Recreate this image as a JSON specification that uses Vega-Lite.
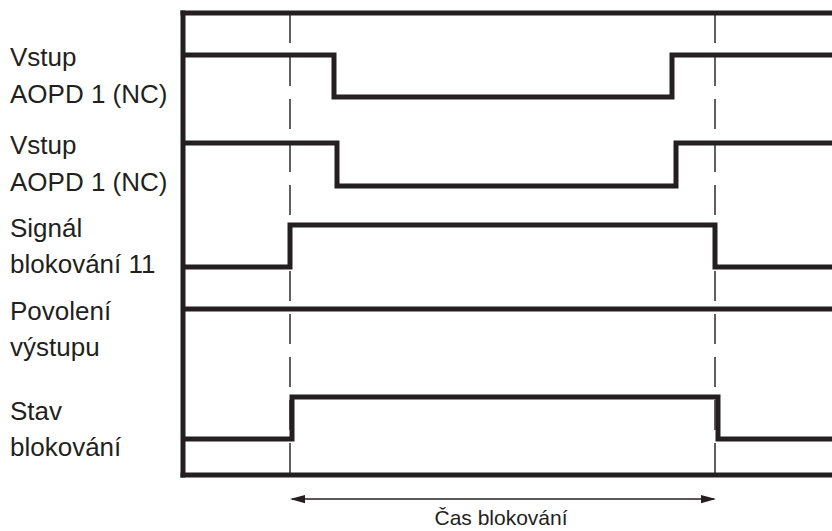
{
  "$schema": "https://vega.github.io/schema/vega-lite/v6.json",
  "width": 832,
  "height": 531,
  "padding": 0,
  "autosize": {"type": "none"},
  "background": "white",
  "config": {"view": {"stroke": null}},
  "datasets": {
    "frame": [
      {"t": 183, "t2": 840, "v": 13, "v2": 13},
      {"t": 183, "t2": 840, "v": 475, "v2": 475},
      {"t": 183, "t2": 183, "v": 13, "v2": 475}
    ],
    "dashes": [
      {"t": 290, "v": 13, "v2": 475},
      {"t": 715, "v": 13, "v2": 475}
    ],
    "signals": [
      {"signal": "s1", "t": 183, "v": 55},
      {"signal": "s1", "t": 334, "v": 97},
      {"signal": "s1", "t": 672, "v": 55},
      {"signal": "s1", "t": 840, "v": 55},
      {"signal": "s2", "t": 183, "v": 143},
      {"signal": "s2", "t": 337, "v": 186},
      {"signal": "s2", "t": 676, "v": 143},
      {"signal": "s2", "t": 840, "v": 143},
      {"signal": "s3", "t": 183, "v": 267},
      {"signal": "s3", "t": 290, "v": 225},
      {"signal": "s3", "t": 715, "v": 267},
      {"signal": "s3", "t": 840, "v": 267},
      {"signal": "s4", "t": 183, "v": 309},
      {"signal": "s4", "t": 840, "v": 309},
      {"signal": "s5", "t": 183, "v": 439},
      {"signal": "s5", "t": 292, "v": 397},
      {"signal": "s5", "t": 718, "v": 439},
      {"signal": "s5", "t": 840, "v": 439}
    ],
    "arrow": [{"t": 292, "t2": 714, "v": 499}],
    "heads": [
      {"t": 297.5, "v": 499, "dir": "left"},
      {"t": 708.5, "v": 499, "dir": "right"}
    ],
    "labels": [
      {"text": "Vstup", "t": 10, "v": 66},
      {"text": "AOPD 1 (NC)", "t": 10, "v": 103},
      {"text": "Vstup", "t": 10, "v": 154},
      {"text": "AOPD 1 (NC)", "t": 10, "v": 191},
      {"text": "Signál", "t": 10, "v": 237},
      {"text": "blokování 11", "t": 10, "v": 273},
      {"text": "Povolení", "t": 10, "v": 320},
      {"text": "výstupu", "t": 10, "v": 356},
      {"text": "Stav", "t": 10, "v": 420},
      {"text": "blokování", "t": 10, "v": 456}
    ],
    "caption": [{"text": "Čas blokování", "t": 501, "v": 525}]
  },
  "layer": [
    {
      "data": {"name": "dashes"},
      "mark": {"type": "rule", "color": "#5f6062", "strokeWidth": 2, "strokeDash": [30, 13]},
      "encoding": {
        "x": {"field": "t", "type": "quantitative", "scale": {"domain": [0, 832], "nice": false, "zero": false}, "axis": null},
        "y": {"field": "v", "type": "quantitative", "scale": {"domain": [0, 531], "nice": false, "zero": false, "reverse": true}, "axis": null},
        "y2": {"field": "v2"}
      }
    },
    {
      "data": {"name": "frame"},
      "mark": {"type": "rule", "color": "#231f20", "strokeWidth": 5, "strokeCap": "square"},
      "encoding": {
        "x": {"field": "t", "type": "quantitative", "scale": {"domain": [0, 832], "nice": false, "zero": false}, "axis": null},
        "x2": {"field": "t2"},
        "y": {"field": "v", "type": "quantitative", "scale": {"domain": [0, 531], "nice": false, "zero": false, "reverse": true}, "axis": null},
        "y2": {"field": "v2"}
      }
    },
    {
      "data": {"name": "signals"},
      "mark": {"type": "line", "color": "#231f20", "strokeWidth": 5, "interpolate": "step-after", "strokeJoin": "miter"},
      "encoding": {
        "x": {"field": "t", "type": "quantitative", "scale": {"domain": [0, 832], "nice": false, "zero": false}, "axis": null},
        "y": {"field": "v", "type": "quantitative", "scale": {"domain": [0, 531], "nice": false, "zero": false, "reverse": true}, "axis": null},
        "detail": {"field": "signal", "type": "nominal"}
      }
    },
    {
      "data": {"name": "arrow"},
      "mark": {"type": "rule", "color": "#231f20", "strokeWidth": 1.5},
      "encoding": {
        "x": {"field": "t", "type": "quantitative", "scale": {"domain": [0, 832], "nice": false, "zero": false}, "axis": null},
        "x2": {"field": "t2"},
        "y": {"field": "v", "type": "quantitative", "scale": {"domain": [0, 531], "nice": false, "zero": false, "reverse": true}, "axis": null}
      }
    },
    {
      "data": {"name": "heads"},
      "mark": {"type": "point", "filled": true, "color": "#231f20", "opacity": 1, "size": 225},
      "encoding": {
        "x": {"field": "t", "type": "quantitative", "scale": {"domain": [0, 832], "nice": false, "zero": false}, "axis": null},
        "y": {"field": "v", "type": "quantitative", "scale": {"domain": [0, 531], "nice": false, "zero": false, "reverse": true}, "axis": null},
        "shape": {"field": "dir", "type": "nominal", "scale": {"domain": ["left", "right"], "range": ["M-1,0L1,-0.55L1,0.55Z", "M1,0L-1,-0.55L-1,0.55Z"]}, "legend": null}
      }
    },
    {
      "data": {"name": "labels"},
      "mark": {"type": "text", "align": "left", "baseline": "alphabetic", "font": "Liberation Sans", "fontSize": 26, "color": "#231f20"},
      "encoding": {
        "x": {"field": "t", "type": "quantitative", "scale": {"domain": [0, 832], "nice": false, "zero": false}, "axis": null},
        "y": {"field": "v", "type": "quantitative", "scale": {"domain": [0, 531], "nice": false, "zero": false, "reverse": true}, "axis": null},
        "text": {"field": "text", "type": "nominal"}
      }
    },
    {
      "data": {"name": "caption"},
      "mark": {"type": "text", "align": "center", "baseline": "alphabetic", "font": "Liberation Sans", "fontSize": 21, "color": "#231f20"},
      "encoding": {
        "x": {"field": "t", "type": "quantitative", "scale": {"domain": [0, 832], "nice": false, "zero": false}, "axis": null},
        "y": {"field": "v", "type": "quantitative", "scale": {"domain": [0, 531], "nice": false, "zero": false, "reverse": true}, "axis": null},
        "text": {"field": "text", "type": "nominal"}
      }
    }
  ]
}
